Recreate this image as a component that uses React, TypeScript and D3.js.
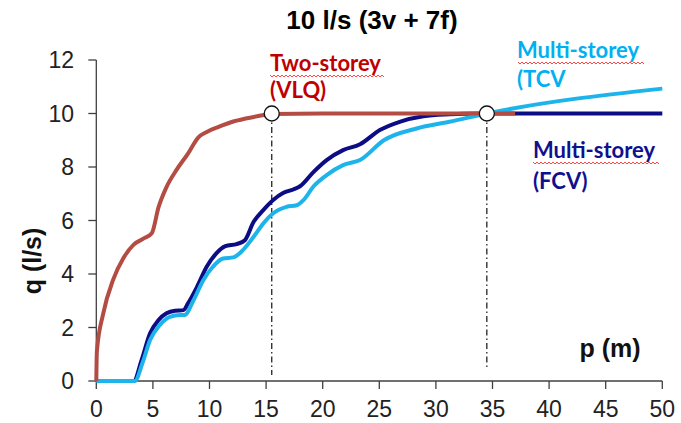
import React from "react";
import * as d3 from "d3";

const xTicks = [0, 5, 10, 15, 20, 25, 30, 35, 40, 45, 50];
const yTicks = [0, 2, 4, 6, 8, 10, 12];

const twoStoreyP = [0, 0.05, 0.6, 1.5, 2.4, 3.3, 4.2, 4.9, 5.5, 6.2, 7.1, 8.1, 9.0, 9.8, 10.8, 12.1, 13.9, 15.5, 20, 25, 30, 37];
const twoStoreyQ = [0, 1.1, 2.5, 3.8, 4.6, 5.1, 5.33, 5.52, 6.5, 7.25, 7.9, 8.5, 9.1, 9.32, 9.5, 9.7, 9.87, 9.98, 10, 10, 10, 10];

const fcvP = [0, 3.3, 4.0, 4.75, 5.5, 6.2, 6.95, 7.7, 8.1, 8.9, 9.75, 10.6, 11.4, 12.4, 13.1, 13.9, 14.75, 15.6, 16.5, 17.4, 18.0, 19.2, 20.35, 21.8, 23.3, 25.05, 26.8, 28.9, 31.2, 34, 50];
const fcvQ = [0, 0, 0.78, 1.78, 2.28, 2.53, 2.63, 2.65, 2.9, 3.52, 4.27, 4.77, 5.04, 5.12, 5.25, 5.95, 6.39, 6.76, 7.03, 7.16, 7.28, 7.82, 8.26, 8.63, 8.85, 9.38, 9.69, 9.9, 9.97, 10, 10];

const tcvP = [0, 3.4, 4.1, 4.75, 5.6, 6.5, 7.4, 7.8, 8.6, 9.45, 10.3, 11.2, 12.1, 12.85, 13.9, 14.75, 15.6, 16.8, 17.7, 18.3, 19.2, 20.35, 21.8, 23.3, 25.4, 28.3, 31.2, 34.5, 50];
const tcvQ = [0, 0, 0.7, 1.53, 2.09, 2.4, 2.47, 2.47, 3.03, 3.77, 4.27, 4.58, 4.62, 4.85, 5.39, 5.89, 6.26, 6.51, 6.57, 6.76, 7.28, 7.7, 8.07, 8.26, 9.0, 9.44, 9.69, 10.0, 10.93];

const markerP = [15.5, 34.5];
const markerQ = [10, 10];
const dropEndQ = [0.22, 0.52];

const title = "10 l/s (3v + 7f)";
const xTitle = "p (m)";
const yTitle = "q (l/s)";

const W = 681;
const H = 423;

const x = d3.scaleLinear().domain([0, 50]).range([96.3, 662.3]);
const y = d3.scaleLinear().domain([0, 12]).range([381, 60]);

function zip(p: number[], q: number[]): [number, number][] {
  return p.map((v, i) => [v, q[i]]);
}

const line = d3
  .line<[number, number]>()
  .x((d) => x(d[0]))
  .y((d) => y(d[1]))
  .curve(d3.curveMonotoneX);

function squiggle(x0: number, x1: number, yy: number): string {
  const pts: string[] = [];
  let i = 0;
  for (let xx = x0; xx <= x1; xx += 2) {
    pts.push(`${xx},${yy + (i % 2 === 0 ? -1 : 1)}`);
    i++;
  }
  return "M" + pts.join("L");
}

const axisColor = "#404040";
const tickFont = "Liberation Sans, Arial, sans-serif";
const noteFont = "Lato, 'Open Sans', sans-serif";

export default function App() {
  return (
    <svg
      width={W}
      height={H}
      style={{ position: "absolute", left: 0, top: 0, background: "#fff" }}
    >
      <rect width={W} height={H} fill="#fff" />
      {/* title */}
      <text x={372} y={29} textAnchor="middle" fontFamily={tickFont} fontWeight="bold" fontSize={26} fill="#000">
        {title}
      </text>

      {/* axes */}
      <line x1={x(0)} x2={x(0)} y1={y(12)} y2={y(0)} stroke={axisColor} strokeWidth={1.3} />
      <line x1={x(0)} x2={x(50)} y1={y(0)} y2={y(0)} stroke={axisColor} strokeWidth={1.3} />
      {yTicks.map((t) => (
        <g key={"y" + t}>
          <line x1={x(0) - 8} x2={x(0)} y1={y(t)} y2={y(t)} stroke={axisColor} strokeWidth={1.3} />
          <text x={74} y={y(t) + 8} textAnchor="end" fontFamily={tickFont} fontSize={23} fill="#222">
            {t}
          </text>
        </g>
      ))}
      {xTicks.map((t) => (
        <g key={"x" + t}>
          <line x1={x(t)} x2={x(t)} y1={y(0)} y2={y(0) + 8} stroke={axisColor} strokeWidth={1.3} />
          <text x={x(t)} y={417} textAnchor="middle" fontFamily={tickFont} fontSize={23} fill="#222">
            {t}
          </text>
        </g>
      ))}

      {/* axis titles */}
      <text
        transform="translate(41,261) rotate(-90)"
        textAnchor="middle"
        fontFamily={tickFont}
        fontWeight="bold"
        fontSize={25}
        fill="#111"
      >
        {yTitle}
      </text>
      <text x={610} y={357} textAnchor="middle" fontFamily={tickFont} fontWeight="bold" fontSize={25} fill="#111">
        {xTitle}
      </text>

      {/* drop lines */}
      {markerP.map((p, i) => (
        <line
          key={"d" + i}
          x1={x(p)}
          x2={x(p)}
          y1={y(markerQ[i])}
          y2={y(dropEndQ[i])}
          stroke="#111"
          strokeWidth={1.2}
          strokeDasharray="6,3,1.5,3"
        />
      ))}

      {/* series */}
      <path d={line(zip(fcvP, fcvQ)) || ""} fill="none" stroke="#0c0c85" strokeWidth={4} strokeLinejoin="round" />
      <path d={line(zip(tcvP, tcvQ)) || ""} fill="none" stroke="#1db4ec" strokeWidth={4} strokeLinejoin="round" />
      <path d={line(zip(twoStoreyP, twoStoreyQ)) || ""} fill="none" stroke="#b34d44" strokeWidth={4} strokeLinejoin="round" />

      {markerP.map((p, i) => (
        <circle key={"c" + i} cx={x(p)} cy={y(markerQ[i])} r={7.5} fill="#fff" stroke="#111" strokeWidth={1.3} />
      ))}

      {/* annotations */}
      <text fontFamily={noteFont} fontWeight="bold" fontSize={22} fill="#c00000">
        <tspan x={270} y={71}>Two-storey</tspan>
        <tspan x={270} y={98}>(VLQ)</tspan>
      </text>
      <path d={squiggle(270, 385, 76)} fill="none" stroke="#ff3030" strokeWidth={0.9} />

      <text fontFamily={noteFont} fontWeight="bold" fontSize={22} fill="#00b0f0">
        <tspan x={517} y={58}>Multi-storey</tspan>
        <tspan x={517} y={87}>(TCV</tspan>
      </text>
      <path d={squiggle(518, 644, 63)} fill="none" stroke="#ff3030" strokeWidth={0.9} />

      <text fontFamily={noteFont} fontWeight="bold" fontSize={22} fill="#10108f">
        <tspan x={533} y={158}>Multi-storey</tspan>
        <tspan x={533} y={189}>(FCV)</tspan>
      </text>
      <path d={squiggle(533, 659, 163)} fill="none" stroke="#ff3030" strokeWidth={0.9} />
    </svg>
  );
}
